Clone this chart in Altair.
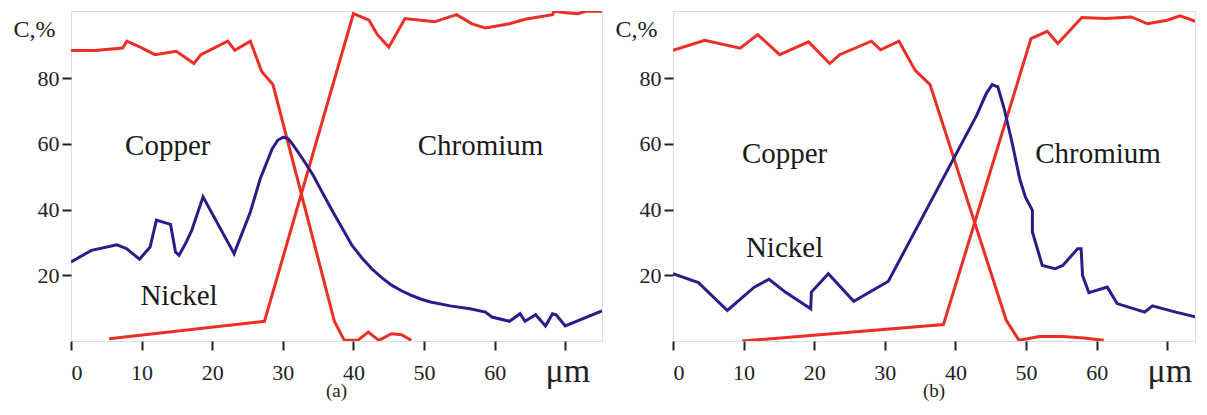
import altair as alt
import pandas as pd

# ---------------- data ----------------
# Panel (a)
a_cu_x = [0, 3.4, 7.3, 7.9, 9.8, 11.9, 14.9, 17.4, 18.4, 22.2, 23.2, 25.4, 27.0, 28.6, 37.3, 38.7, 40.6, 42.1, 43.6, 45.4, 46.8, 48.2]
a_cu_y = [88.5, 88.5, 89.2, 91.3, 89.5, 87.2, 88.2, 84.5, 87.2, 91.3, 88.5, 91.3, 82.1, 78.1, 6.0, 0.2, 0.2, 2.7, 0.2, 2.2, 1.9, 0.2]

a_cr_x = [5.4, 27.4, 40.0, 42.2, 43.4, 45.0, 47.3, 51.5, 54.6, 56.8, 58.7, 62.1, 64.3, 68.2, 68.4, 70.1, 71.8, 72.9, 75.2]
a_cr_y = [0.7, 6.0, 99.7, 97.7, 93.3, 89.5, 98.2, 97.2, 99.4, 96.6, 95.3, 96.6, 98.0, 99.4, 100.4, 100.0, 99.7, 100.4, 100.4]

a_ni_x = [0, 2.9, 6.5, 7.9, 9.7, 11.2, 12.1, 14.1, 14.8, 15.3, 16.2, 17.1, 18.7, 23.1, 25.4, 26.8, 28.5, 29.3, 30.1, 30.8, 31.5,
          32.8, 34.3, 35.7, 37.1, 38.5, 39.8, 41.2, 42.6, 44.0, 45.4, 46.8, 48.2, 49.5, 50.9, 53.7, 56.5, 58.7, 59.6, 62.1,
          63.6, 64.3, 65.8, 67.2, 68.2, 68.7, 70.0, 75.2]
a_ni_y = [24.1, 27.6, 29.3, 28.1, 24.9, 28.6, 36.8, 35.5, 27.1, 26.1, 29.6, 33.7, 43.9, 26.6, 39.3, 49.4, 58.6, 61.2, 62.1, 61.5, 59.6,
          55.5, 50.5, 44.8, 39.3, 34.0, 29.1, 25.3, 22.0, 19.3, 17.0, 15.3, 13.9, 12.8, 11.9, 10.7, 9.8, 8.8, 7.3, 6.0,
          8.3, 6.0, 8.0, 4.6, 8.3, 8.0, 4.6, 9.2]

# Panel (b)
b_cu_x = [0, 4.5, 9.5, 12.0, 15.1, 19.2, 22.2, 23.6, 28.1, 29.4, 32.0, 34.3, 36.4, 47.2, 49.0, 51.9, 55.2, 58.2, 61.0]
b_cu_y = [88.5, 91.6, 89.2, 93.3, 87.2, 91.1, 84.5, 87.2, 91.3, 88.7, 91.3, 82.4, 78.1, 6.3, 0.2, 1.4, 1.4, 0.9, 0.2]

b_cr_x = [9.8, 38.3, 50.7, 53.0, 54.5, 57.9, 61.3, 64.9, 67.2, 70.0, 71.8, 75.4]
b_cr_y = [0.0, 5.0, 92.1, 94.3, 90.6, 98.5, 98.2, 98.7, 96.6, 97.7, 99.0, 96.3]

b_ni_x = [0, 3.6, 7.7, 11.5, 13.6, 15.9, 19.5, 19.6, 22.0, 25.6, 30.5, 43.0, 44.4, 45.2, 46.0, 46.9, 48.0, 49.1, 49.9, 50.9, 50.9,
          52.3, 54.1, 55.2, 57.3, 57.8, 58.0, 58.9, 61.5, 62.9, 66.8, 67.9, 71.2, 75.4]
b_ni_y = [20.5, 17.8, 9.3, 16.4, 18.8, 14.9, 9.8, 14.9, 20.5, 12.1, 18.2, 68.7, 75.5, 78.1, 77.4, 70.8, 60.6, 49.4, 43.9, 39.8, 33.2,
          23.0, 22.0, 23.0, 28.1, 28.1, 20.0, 14.7, 16.4, 11.4, 8.8, 10.7, 8.8, 6.6]

elements = ["Copper", "Chromium", "Nickel"]
line_colors = ["#ec2f26", "#ec2f26", "#2d1b88"]

# annotation labels: (text, x, y)
a_lbl_text = ["Copper", "Chromium", "Nickel"]
a_lbl_x = [13.7, 58.0, 15.3]
a_lbl_y = [59.4, 59.4, 13.7]
b_lbl_text = ["Copper", "Chromium", "Nickel"]
b_lbl_x = [15.8, 60.2, 15.8]
b_lbl_y = [57.0, 57.0, 28.4]

x_ticks = [0, 10, 20, 30, 40, 50, 60, 70]
y_ticks = [20, 40, 60, 80]
panel_titles = ["(a)", "(b)"]

SERIF = "Liberation Serif, Times New Roman, serif"
Y_MAX = 100.5
PX_PER_UM = 7.061


def build_df(series):
    rows = []
    for name, xs, ys in series:
        for i, (xv, yv) in enumerate(zip(xs, ys)):
            rows.append({"element": name, "x": xv, "y": yv, "order": i})
    return pd.DataFrame(rows)


def panel(series, lbl_text, lbl_x, lbl_y, title, width):
    df = build_df(series)
    xs = alt.Scale(domain=[0, width / PX_PER_UM], nice=False, zero=False)
    ys = alt.Scale(domain=[0, Y_MAX], nice=False, zero=False)
    lines = alt.Chart(df).mark_line(strokeWidth=3, clip=True).encode(
        x=alt.X("x:Q", scale=xs, axis=alt.Axis(
            values=x_ticks, title="μm", titleFont=SERIF, titleFontSize=34,
            titleFontWeight="normal", titleColor="#222", titleAngle=0,
            titleAlign="left", titleBaseline="alphabetic", titleX=474, titleY=40,
            labelExpr="datum.value == 70 ? '' : datum.label",
            labelFont=SERIF, labelFontSize=22, labelColor="#222", labelPadding=12,
            tickSize=9, tickWidth=2, tickColor="#222", domain=False, grid=False)),
        y=alt.Y("y:Q", scale=ys, axis=alt.Axis(
            values=y_ticks, title="C,%", titleFont=SERIF, titleFontSize=24,
            titleFontWeight="normal", titleColor="#222", titleAngle=0,
            titleAlign="left", titleBaseline="alphabetic", titleX=-58, titleY=25,
            labelFont=SERIF, labelFontSize=22, labelColor="#222", labelPadding=3,
            tickSize=9, tickWidth=2, tickColor="#222", domain=False, grid=False)),
        color=alt.Color("element:N", scale=alt.Scale(domain=elements, range=line_colors), legend=None),
        detail="element:N",
        order="order:Q",
    )
    ldf = pd.DataFrame({"t": lbl_text, "x": lbl_x, "y": lbl_y})
    labels = alt.Chart(ldf).mark_text(font=SERIF, fontSize=29, color="#1a1a1a").encode(
        x=alt.X("x:Q", scale=xs), y=alt.Y("y:Q", scale=ys), text="t:N")
    return alt.layer(lines, labels).properties(
        width=width, height=330,
        title=alt.TitleParams(text=title, orient="bottom", font=SERIF, fontSize=19,
                              fontWeight="normal", color="#222", offset=-6),
    )


pa = panel([("Copper", a_cu_x, a_cu_y), ("Chromium", a_cr_x, a_cr_y), ("Nickel", a_ni_x, a_ni_y)],
           a_lbl_text, a_lbl_x, a_lbl_y, panel_titles[0], 531)
pb = panel([("Copper", b_cu_x, b_cu_y), ("Chromium", b_cr_x, b_cr_y), ("Nickel", b_ni_x, b_ni_y)],
           b_lbl_text, b_lbl_x, b_lbl_y, panel_titles[1], 522)

chart = alt.hconcat(pa, pb, spacing=11).properties(
    padding={"left": 4, "top": 2, "right": 0, "bottom": 0}
).configure_view(stroke="#111", strokeWidth=3).configure(background="white")

chart.save("out.html", embed_options={"renderer": "svg", "actions": False})
